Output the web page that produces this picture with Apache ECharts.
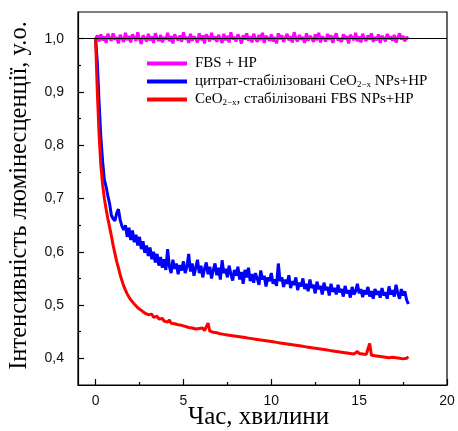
<!DOCTYPE html>
<html>
<head>
<meta charset="utf-8">
<script src="https://cdn.jsdelivr.net/npm/echarts@6/dist/echarts.min.js"></script>
<style>html,body{margin:0;padding:0;background:#fff}#c{width:458px;height:431px}</style>
</head>
<body>
<div id="c"></div>
<script>
// sampling grid (minutes)
const timeStep = 0.1;
const xTickValues = [0, 5, 10, 15, 20];
const xMinorTickValues = [2.5, 7.5, 12.5, 17.5];
const yTickValues = [0.4, 0.5, 0.6, 0.7, 0.8, 0.9, 1.0];
const yMinorTickValues = [0.45, 0.55, 0.65, 0.75, 0.85, 0.95];
const seriesNames = ['FBS + HP', 'цитрат-стабілізовані CeO{s|2−x} NPs+HP', 'CeO{s|2−x}, стабілізовані FBS NPs+HP'];

const fbsHp = [
1.000,1.006,0.995,1.008,0.997,1.004,0.992,1.009,1.001,0.996,
1.010,0.998,1.003,0.991,1.007,1.000,0.994,1.011,0.997,1.005,
0.993,1.008,1.002,0.996,1.012,0.999,0.990,1.006,1.001,0.995,
1.009,0.997,1.004,0.992,1.010,1.000,0.996,1.007,0.993,1.003,
0.998,1.011,0.995,1.005,0.991,1.008,1.001,0.997,1.006,0.994,
1.012,0.999,1.003,0.992,1.009,0.996,1.004,1.000,0.993,1.010,
0.997,1.006,0.991,1.008,1.002,0.995,1.011,0.998,1.004,0.994,
1.007,1.000,0.992,1.009,0.997,1.005,0.993,1.012,0.999,1.003,
0.995,1.008,1.001,0.991,1.006,0.998,1.010,0.996,1.004,0.993,
1.009,1.000,0.994,1.007,0.997,1.011,0.992,1.005,1.001,0.996,
1.008,0.995,1.003,0.991,1.010,0.999,1.006,0.994,1.002,1.009,
0.997,1.004,0.993,1.012,1.000,0.995,1.007,0.998,1.003,0.992,
1.010,0.996,1.005,1.001,0.994,1.008,0.997,1.011,0.993,1.004,
1.000,0.995,1.009,0.998,1.006,0.992,1.003,1.010,0.996,1.001,
0.994,1.008,0.999,1.005,0.991,1.007,1.002,0.997,1.011,0.995,
1.004,0.993,1.009,1.000,0.996,1.006,0.998,1.010,0.994,1.003,
0.997,1.008,0.992,1.005,1.001,0.995,1.009,0.999,1.004,0.996,
1.007,0.993,1.002,1.010,0.998,1.005,0.995,1.003,0.999
];

const citrateCeO2 = [
1.000,0.955,0.880,0.815,0.770,0.735,0.722,0.705,0.690,0.668,
0.662,0.658,0.672,0.680,0.660,0.648,0.641,0.650,0.628,0.645,
0.622,0.640,0.618,0.632,0.612,0.628,0.605,0.620,0.598,0.612,
0.592,0.608,0.586,0.600,0.580,0.596,0.574,0.590,0.570,0.586,
0.566,0.605,0.572,0.560,0.585,0.568,0.578,0.558,0.575,0.565,
0.582,0.560,0.572,0.596,0.563,0.578,0.555,0.570,0.585,0.560,
0.574,0.552,0.568,0.580,0.558,0.572,0.550,0.566,0.578,0.556,
0.570,0.548,0.584,0.560,0.568,0.552,0.574,0.558,0.546,0.566,
0.555,0.572,0.548,0.562,0.540,0.566,0.552,0.570,0.545,0.558,
0.542,0.560,0.550,0.538,0.565,0.548,0.555,0.535,0.552,0.545,
0.560,0.540,0.548,0.536,0.578,0.545,0.552,0.534,0.548,0.540,
0.556,0.532,0.545,0.538,0.552,0.528,0.542,0.535,0.550,0.530,
0.540,0.526,0.548,0.532,0.538,0.522,0.544,0.530,0.536,0.520,
0.542,0.528,0.534,0.518,0.540,0.525,0.532,0.520,0.538,0.524,
0.530,0.516,0.536,0.522,0.528,0.514,0.534,0.520,0.526,0.540,
0.522,0.530,0.515,0.528,0.520,0.534,0.516,0.526,0.512,0.530,
0.520,0.526,0.514,0.532,0.518,0.524,0.512,0.535,0.520,0.528,
0.516,0.538,0.522,0.512,0.530,0.518,0.526,0.510,0.502
];

const fbsCeO2 = [
1.000,0.900,0.820,0.762,0.726,0.700,0.680,0.662,0.646,0.630,
0.612,0.597,0.582,0.570,0.557,0.546,0.536,0.528,0.521,0.515,
0.510,0.506,0.502,0.499,0.495,0.493,0.490,0.488,0.485,0.484,
0.482,0.480,0.483,0.477,0.476,0.479,0.474,0.472,0.475,0.470,
0.471,0.468,0.472,0.466,0.469,0.465,0.467,0.463,0.466,0.462,
0.464,0.460,0.463,0.458,0.461,0.457,0.460,0.455,0.458,0.456,
0.453,0.457,0.452,0.455,0.466,0.451,0.454,0.449,0.452,0.448,
0.451,0.446,0.449,0.445,0.448,0.444,0.447,0.443,0.446,0.442,
0.445,0.441,0.444,0.440,0.443,0.439,0.442,0.438,0.441,0.437,
0.440,0.436,0.439,0.435,0.438,0.434,0.437,0.433,0.436,0.432,
0.435,0.431,0.434,0.430,0.433,0.429,0.432,0.428,0.431,0.427,
0.430,0.426,0.429,0.425,0.428,0.424,0.427,0.423,0.426,0.422,
0.425,0.421,0.424,0.420,0.423,0.419,0.422,0.418,0.421,0.417,
0.420,0.416,0.419,0.415,0.418,0.414,0.417,0.413,0.416,0.412,
0.415,0.411,0.414,0.410,0.413,0.409,0.412,0.408,0.411,0.413,
0.409,0.412,0.408,0.411,0.407,0.410,0.428,0.406,0.409,0.405,
0.408,0.404,0.407,0.403,0.406,0.402,0.405,0.401,0.404,0.402,
0.405,0.401,0.404,0.400,0.403,0.399,0.402,0.400,0.403
];

function pairs(vals) {
  return vals.map((v, i) => [Math.round(i * timeStep * 1000) / 1000, v]);
}

const fmt = v => (Math.round(v * 10) / 10).toFixed(1).replace('.', ',');
const serif = '"Liberation Serif", "Times New Roman", serif';
const sans = '"Liberation Sans", Arial, sans-serif';

const chart = echarts.init(document.getElementById('c'), null, {renderer: 'canvas'});
const colors = ['#ff00ff', '#0000ff', '#ff0000'];
const dataSets = [fbsHp, citrateCeO2, fbsCeO2];

const series = dataSets.map((d, i) => ({
  name: seriesNames[i],
  type: 'line',
  data: pairs(d),
  showSymbol: false,
  symbol: 'none',
  smooth: false,
  color: colors[i],
  lineStyle: {color: colors[i], width: 3},
  animation: false,
  z: 2
}));
series.push({
  type: 'line',
  data: [],
  z: 4,
  animation: false,
  markLine: {
    silent: true,
    symbol: 'none',
    animation: false,
    label: {show: false},
    lineStyle: {color: '#000', width: 1, type: 'solid'},
    data: [{yAxis: 1.0}]
  }
});

const tickStyle = {color: '#000', width: 1.2};

chart.setOption({
  animation: false,
  backgroundColor: '#fff',
  grid: {left: 78, right: 11, top: 12, bottom: 46, show: true, borderColor: '#000', borderWidth: 1.2,
         containLabel: false, outerBoundsMode: 'none'},
  legend: {
    data: seriesNames,
    orient: 'vertical',
    left: 147,
    top: 56,
    padding: 0,
    itemWidth: 40,
    itemHeight: 4,
    itemGap: 3,
    icon: 'rect',
    textStyle: {
      fontFamily: serif, fontSize: 15, color: '#000', padding: [0, 0, 0, 3],
      rich: {s: {fontFamily: serif, fontSize: 9, verticalAlign: 'bottom', padding: [5, 0, 0, 0]}}
    }
  },
  xAxis: [{
    type: 'value', min: -1, max: 20,
    name: 'Час, хвилини', nameLocation: 'middle', nameGap: 20, nameMoveOverlap: false,
    nameTextStyle: {fontFamily: serif, fontSize: 25, color: '#000', padding: [0, 8, 0, 0]},
    axisLine: {show: true, onZero: false, lineStyle: tickStyle},
    axisTick: {show: true, inside: true, length: 6, customValues: xTickValues, lineStyle: tickStyle},
    axisLabel: {customValues: xTickValues, fontFamily: sans, fontSize: 14, color: '#111', margin: 9},
    splitLine: {show: false}
  }, {
    type: 'value', min: -1, max: 20, position: 'bottom',
    axisLine: {show: false, onZero: false},
    axisTick: {show: true, inside: true, length: 3, customValues: xMinorTickValues, lineStyle: tickStyle},
    axisLabel: {show: false},
    splitLine: {show: false}
  }],
  yAxis: [{
    type: 'value', min: 0.35, max: 1.05,
    name: 'Інтенсивність люмінесценції, у.о.', nameLocation: 'middle', nameGap: 46, nameMoveOverlap: false,
    nameTextStyle: {fontFamily: serif, fontSize: 24.5, color: '#000', padding: [0, 0, 0, 6]},
    axisLine: {show: true, onZero: false, lineStyle: tickStyle},
    axisTick: {show: true, inside: true, length: 6, customValues: yTickValues, lineStyle: tickStyle},
    axisLabel: {customValues: yTickValues, formatter: fmt, fontFamily: sans, fontSize: 14, color: '#111', margin: 14},
    splitLine: {show: false}
  }, {
    type: 'value', min: 0.35, max: 1.05, position: 'left',
    axisLine: {show: false, onZero: false},
    axisTick: {show: true, inside: true, length: 3, customValues: yMinorTickValues, lineStyle: tickStyle},
    axisLabel: {show: false},
    splitLine: {show: false}
  }],
  series: series
});
</script>
</body>
</html>
